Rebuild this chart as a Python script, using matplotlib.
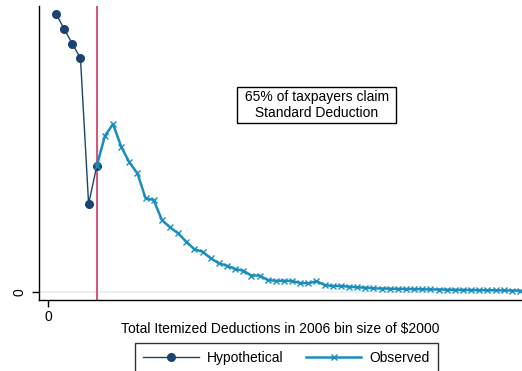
import matplotlib
matplotlib.use("Agg")
import matplotlib.pyplot as plt

plt.rcParams['font.family'] = ['Liberation Sans', 'DejaVu Sans']

# bin index * $2000
hyp_x = [2000, 4000, 6000, 8000, 10000, 12000]
hyp_y = [277.7, 262.7, 248.0, 233.4, 87.7, 125.7]

obs_x = [2000 * b for b in range(6, 59)]
obs_y = [125.7, 155.7, 167.7, 145.0, 129.4, 118.4, 93.4, 91.7, 71.7, 64.4,
         58.4, 50.0, 42.4, 40.0, 33.4, 28.4, 26.0, 22.7, 21.0, 16.2,
         16.2, 11.7, 10.9, 10.9, 10.7, 8.7, 8.4, 10.5, 6.7, 5.7,
         5.7, 5.0, 4.4, 4.0, 3.4, 3.2, 3.0, 2.8, 2.7, 2.6,
         2.4, 2.3, 2.2, 2.0, 1.9, 1.8, 1.7, 1.6, 1.5, 1.4,
         1.3, 1.2, 1.0]

std_deduction = 12000
note = " 65% of taxpayers claim \n Standard Deduction "

fig = plt.figure(figsize=(5.22, 3.71), dpi=100)
ax = fig.add_axes([39 / 522, 71 / 371, 1 - 39 / 522, 294 / 371])

ax.axhline(0, color='#e6eff1', lw=1.2, zorder=0)
ax.axvline(std_deduction, color='#d45a7c', lw=1.5, zorder=1)

ax.plot(hyp_x, hyp_y, color='#1a4470', lw=1.0, marker='o', ms=5.5,
        label='Hypothetical', zorder=3)
ax.plot(obs_x, obs_y, color='#1a8dbf', lw=1.8, marker='x', ms=5, mew=1.0,
        label='Observed', zorder=4)

ax.set_xlim(-2190, 116500)
ax.set_ylim(-8.3, 285.7)

for s in ['top', 'right']:
    ax.spines[s].set_visible(False)
ax.spines['left'].set_linewidth(1.0)
ax.spines['bottom'].set_linewidth(1.0)

ax.set_xticks([0])
ax.set_yticks([0])
ax.tick_params(axis='both', length=5, width=1, labelsize=10, pad=2)
ax.tick_params(axis='y', labelrotation=90, pad=4)
for lab in ax.get_yticklabels():
    lab.set_va('center')

ax.set_xlabel("Total Itemized Deductions in 2006 bin size of $2000",
              fontsize=10, labelpad=-1.5)

ax.text(66100, 186.7, note, ha='center', va='center', fontsize=10,
        linespacing=1.15,
        bbox=dict(boxstyle='square,pad=0.25', fc='white', ec='black', lw=1.0))

fig.legend(loc='lower center', bbox_to_anchor=(0.549, -0.025), ncol=2,
           frameon=True, fancybox=False, edgecolor='black', fontsize=10,
           handlelength=4.0, handletextpad=0.6, columnspacing=1.6,
           borderpad=0.6)

fig.savefig("out.png", dpi=100)
